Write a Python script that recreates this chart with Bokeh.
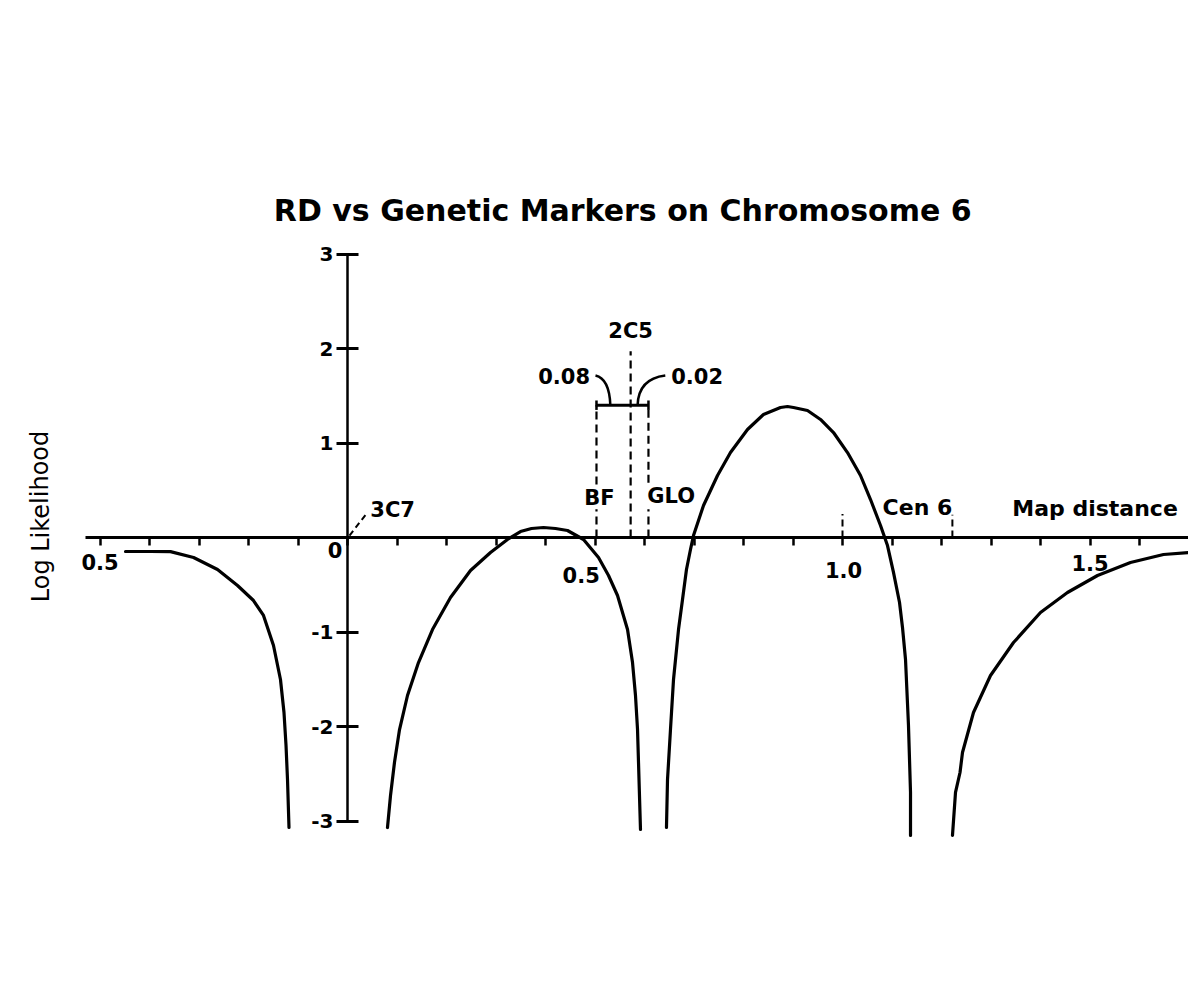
from bokeh.plotting import figure
from bokeh.models import LinearAxis, FixedTicker
from bokeh.core.properties import value
from bokeh.embed import file_html
from bokeh.resources import INLINE

# ---- data: log likelihood curve segments (map distance, log likelihood)
seg1_x = [-0.4485, -0.398, -0.3576, -0.311, -0.2626, -0.2222, -0.1899, -0.1697, -0.1495,
          -0.1354, -0.1283, -0.1242, -0.1212, -0.1182]
seg1_y = [-0.148, -0.148, -0.150, -0.212, -0.339, -0.508, -0.667, -0.825, -1.143,
          -1.503, -1.852, -2.201, -2.561, -3.069]

seg2_x = [0.0808, 0.0869, 0.0949, 0.1051, 0.1212, 0.1434, 0.1717, 0.2081, 0.2485, 0.2889,
          0.3232, 0.3495, 0.3717, 0.396, 0.4202, 0.4444, 0.4768, 0.5071, 0.5273, 0.5455,
          0.5657, 0.5758, 0.5818, 0.5859, 0.5879, 0.5919]
seg2_y = [-3.069, -2.730, -2.381, -2.032, -1.672, -1.323, -0.974, -0.635, -0.349, -0.159,
          -0.021, 0.063, 0.095, 0.106, 0.095, 0.074, -0.021, -0.212, -0.402, -0.614,
          -0.974, -1.323, -1.672, -2.032, -2.381, -3.090]

seg3_x = [0.6444, 0.6465, 0.6525, 0.6586, 0.6687, 0.6768, 0.6848, 0.6929, 0.699, 0.7192,
          0.7475, 0.7737, 0.8081, 0.8404, 0.8747, 0.8889, 0.901, 0.9293, 0.9556, 0.9818,
          1.0101, 1.0364, 1.0566, 1.0768, 1.0909, 1.1030, 1.1152, 1.1212, 1.1273, 1.1333,
          1.1374, 1.1374]
seg3_y = [-3.069, -2.561, -2.032, -1.503, -0.974, -0.656, -0.339, -0.127, 0.021, 0.339,
          0.656, 0.899, 1.143, 1.302, 1.376, 1.386, 1.376, 1.344, 1.249, 1.111,
          0.899, 0.656, 0.402, 0.127, -0.085, -0.370, -0.688, -0.952, -1.291, -1.989,
          -2.698, -3.153]

seg4_x = [1.2222, 1.2283, 1.2374, 1.2424, 1.2646, 1.299, 1.3455, 1.400, 1.4545, 1.5152,
          1.5818, 1.6485, 1.699]
seg4_y = [-3.153, -2.698, -2.487, -2.275, -1.852, -1.460, -1.111, -0.794, -0.582, -0.402,
          -0.265, -0.180, -0.159]

# ---- axis ticks and labels
x_ticks = [-0.5, -0.4, -0.3, -0.2, -0.1, 0.0, 0.1, 0.2, 0.3, 0.4, 0.5, 0.6, 0.7,
           0.8, 0.9, 1.0, 1.1, 1.2, 1.3, 1.4, 1.5, 1.6, 1.7]
x_label_pos = [-0.5, 0.0, 0.5, 1.0, 1.5]
x_label_txt = ["0.5", "0", "0.5", "1.0", "1.5"]
y_ticks = [-3, -2, -1, 1, 2, 3]

# ---- genetic markers
marker_names = ["3C7", "BF", "2C5", "GLO", "Cen 6"]
marker_pos = [0.0, 0.503, 0.572, 0.608, 1.222]
interval_lo = 0.503   # BF
interval_hi = 0.608   # GLO
interval_y = 1.40
dist_left = "0.08"
dist_right = "0.02"

PXX = 495.0
PXY = 94.5
X0 = -347 / PXX
X1 = (1188 - 347) / PXX
Y1 = 537 / PXY
Y0 = -(982 - 537) / PXY

p = figure(width=1188, height=982, x_range=(X0, X1), y_range=(Y0, Y1),
           x_axis_type=None, y_axis_type=None, toolbar_location=None,
           output_backend="svg", min_border=0, outline_line_color=None)
p.grid.visible = False
p.background_fill_color = "white"
p.border_fill_color = "white"

FONT = value("DejaVu Sans")

xa = LinearAxis(fixed_location=0, ticker=FixedTicker(ticks=[], minor_ticks=x_ticks),
                bounds=(-0.53, 1.75),
                major_tick_in=0, major_tick_out=0, minor_tick_out=8, minor_tick_in=0,
                axis_line_width=3, minor_tick_line_width=2.5, minor_tick_line_color="black",
                major_label_standoff=0)
p.add_layout(xa, "below")

ya = LinearAxis(fixed_location=0, ticker=FixedTicker(ticks=y_ticks), bounds=(-3, 3),
                major_tick_in=11, major_tick_out=11, minor_tick_out=0, minor_tick_in=0,
                axis_line_width=2.5, major_tick_line_width=3,
                major_label_text_font="DejaVu Sans", major_label_text_color="black",
                major_label_text_font_style="bold", major_label_text_font_size="20px",
                major_label_standoff=3,
                major_label_overrides={-3: "-3", -2: "-2", -1: "-1", 1: "1", 2: "2", 3: "3"})
p.add_layout(ya, "left")

# curve
for sx, sy in [(seg1_x, seg1_y), (seg2_x, seg2_y), (seg3_x, seg3_y), (seg4_x, seg4_y)]:
    p.line(sx, sy, line_width=3.2, line_color="black", line_join="round", line_cap="round")

# x tick labels
x_lab_dx = [0.0, -0.025, -0.028, 0.002, 0.0]
x_lab_dy = [-0.26, -0.13, -0.40, -0.34, -0.27]
p.text([x + dx for x, dx in zip(x_label_pos, x_lab_dx)],
       [dy for dy in x_lab_dy], text=x_label_txt,
       text_font=FONT, text_font_style="bold", text_font_size="21px",
       text_align="center", text_baseline="middle", text_color="black")

# marker dashed lines
dash = "8 5"
# 3C7 slanted dash
p.segment([marker_pos[0] + 0.004], [0.02], [marker_pos[0] + 0.038], [0.25],
          line_width=2, line_color="black", line_dash="6 4")
p.text([marker_pos[0] + 0.046], [0.286], text=[marker_names[0]],
       text_font=FONT, text_font_style="bold", text_font_size="21px",
       text_align="left", text_baseline="middle")
# BF
p.segment([interval_lo, interval_lo], [0.0, 0.56], [interval_lo, interval_lo], [0.30, interval_y],
          line_width=2.2, line_color="black", line_dash=dash)
p.text([interval_lo + 0.006], [0.42], text=[marker_names[1]],
       text_font=FONT, text_font_style="bold", text_font_size="21px",
       text_align="center", text_baseline="middle")
# 2C5
p.segment([marker_pos[2]], [0.0], [marker_pos[2]], [1.97],
          line_width=2.2, line_color="black", line_dash=dash)
p.text([marker_pos[2]], [2.18], text=[marker_names[2]],
       text_font=FONT, text_font_style="bold", text_font_size="21px",
       text_align="center", text_baseline="middle")
# GLO
p.segment([interval_hi, interval_hi], [0.0, 0.58], [interval_hi, interval_hi], [0.30, interval_y],
          line_width=2.2, line_color="black", line_dash=dash)
p.text([interval_hi + 0.046], [0.44], text=[marker_names[3]],
       text_font=FONT, text_font_style="bold", text_font_size="21px",
       text_align="center", text_baseline="middle")
# 1.0 dashed tick and Cen 6
p.segment([1.0, marker_pos[4]], [0.0, 0.0], [1.0, marker_pos[4]], [0.25, 0.24],
          line_width=2, line_color="black", line_dash="7 4")
p.text([1.081], [0.32], text=[marker_names[4]],
       text_font=FONT, text_font_style="bold", text_font_size="22px",
       text_align="left", text_baseline="middle")

# interval bracket
p.segment([interval_lo], [interval_y], [interval_hi], [interval_y], line_width=3, line_color="black")
p.segment([interval_lo, interval_hi], [interval_y - 0.05, interval_y - 0.05],
          [interval_lo, interval_hi], [interval_y + 0.05, interval_y + 0.05],
          line_width=2.5, line_color="black")
# hooks
p.quadratic(x0=[0.501, 0.642], y0=[1.714, 1.714], x1=[0.531, 0.586], y1=[interval_y, interval_y],
            cx=[0.529, 0.588], cy=[1.68, 1.68], line_width=2.5, line_color="black")
p.text([0.490], [1.714], text=[dist_left],
       text_font=FONT, text_font_style="bold", text_font_size="21px",
       text_align="right", text_baseline="middle")
p.text([0.654], [1.714], text=[dist_right],
       text_font=FONT, text_font_style="bold", text_font_size="21px",
       text_align="left", text_baseline="middle")

# axis name for x
p.text([1.343], [0.31], text=["Map distance"],
       text_font=FONT, text_font_style="bold", text_font_size="22px",
       text_align="left", text_baseline="middle")

# y axis title (vertical)
p.text([(40 - 347) / PXX], [(537 - 516) / PXY], text=["Log Likelihood"], angle=1.5708,
       text_font=FONT, text_font_size="24px",
       text_align="center", text_baseline="middle")

# title
p.text([0.556], [(537 - 210) / PXY], text=["RD vs Genetic Markers on Chromosome 6"],
       text_font=FONT, text_font_style="bold", text_font_size="30px",
       text_align="center", text_baseline="middle")

open("out.html", "w").write(file_html(p, INLINE))
